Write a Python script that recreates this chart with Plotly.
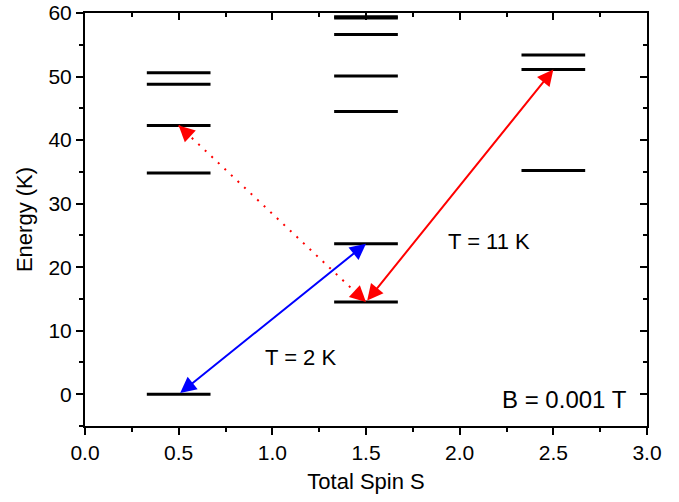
import plotly.graph_objects as go

# ---- data ----
spin_values = [0.5, 1.5, 2.5]
levels_s05 = [0.0, 34.8, 42.3, 48.8, 50.6]
levels_s15 = [14.5, 23.7, 44.5, 50.1, 56.6, 59.2, 59.4]
levels_s25 = [35.2, 51.1, 53.4]
all_levels = [levels_s05, levels_s15, levels_s25]

# transitions: (S_from, E_from, S_to, E_to)
blue_arrow = (0.5, 0.0, 1.5, 23.7)
red_arrow = (1.5, 14.5, 2.5, 51.1)
red_dotted = (0.5, 42.3, 1.5, 14.5)

labels = [("T = 2 K", 1.15, 5.8, 22), ("T = 11 K", 2.155, 24.0, 22), ("B = 0.001 T", 2.56, -0.8, 24)]

x_ticks = [0.0, 0.5, 1.0, 1.5, 2.0, 2.5, 3.0]
y_ticks = [0, 10, 20, 30, 40, 50, 60]

HALF = 0.17
FONT = "Arial, Liberation Sans, sans-serif"

fig = go.Figure()

# energy levels
xs, ys = [], []
for s, lev in zip(spin_values, all_levels):
    for e in lev:
        xs += [s - HALF, s + HALF, None]
        ys += [e, e, None]
fig.add_trace(go.Scatter(x=xs, y=ys, mode="lines", line=dict(color="black", width=3),
                         showlegend=False, hoverinfo="skip"))

# dotted red line
fig.add_trace(go.Scatter(x=[red_dotted[0], red_dotted[2]], y=[red_dotted[1], red_dotted[3]],
                         mode="lines", line=dict(color="red", width=2, dash="2px,7px"),
                         showlegend=False, hoverinfo="skip"))

# invisible trace for mirror axes
fig.add_trace(go.Scatter(x=[None], y=[None], xaxis="x2", yaxis="y2", showlegend=False, hoverinfo="skip"))

AS = 1.6

def solid_arrow(a, color):
    fig.add_annotation(x=a[2], y=a[3], ax=a[0], ay=a[1], xref="x", yref="y", axref="x", ayref="y",
                       text="", showarrow=True, arrowside="end+start", arrowhead=2, startarrowhead=2,
                       arrowwidth=2, arrowsize=AS, startarrowsize=AS, arrowcolor=color,
                       standoff=0, startstandoff=0)

solid_arrow(blue_arrow, "blue")
solid_arrow(red_arrow, "red")

# heads for dotted arrow
f = 0.065
x0, y0, x1, y1 = red_dotted
for (hx, hy, tx, ty) in [(x0, y0, x0 + f * (x1 - x0), y0 + f * (y1 - y0)),
                         (x1, y1, x1 + f * (x0 - x1), y1 + f * (y0 - y1))]:
    fig.add_annotation(x=hx, y=hy, ax=tx, ay=ty, xref="x", yref="y", axref="x", ayref="y",
                       text="", showarrow=True, arrowhead=2, arrowwidth=2, arrowsize=AS,
                       arrowcolor="red", standoff=0)

for t, x, y, sz in labels:
    fig.add_annotation(x=x, y=y, xref="x", yref="y", text=t, showarrow=False,
                       xanchor="center", yanchor="middle", font=dict(size=sz, color="black", family=FONT))

axis_common = dict(showline=True, linewidth=2, linecolor="black", showgrid=False, zeroline=False,
                   tickwidth=2, tickcolor="black", automargin=False)

fig.update_layout(
    width=679, height=502,
    margin=dict(l=85, r=32, t=13, b=76),
    plot_bgcolor="white", paper_bgcolor="white",
    font=dict(family=FONT, color="black"),
    xaxis=dict(range=[0, 3], tickmode="array", tickvals=x_ticks, ticktext=[f"{v:.1f}" for v in x_ticks],
               ticks="outside", ticklen=7, tickfont=dict(size=21),
               minor=dict(dtick=0.25, tick0=0, ticks="outside", ticklen=4, tickwidth=2, tickcolor="black", showgrid=False),
               title=dict(text="Total Spin S", font=dict(size=22), standoff=10), **axis_common),
    yaxis=dict(range=[-5, 60], tickmode="array", tickvals=y_ticks, ticktext=[str(v) for v in y_ticks],
               ticks="outside", ticklen=7, tickfont=dict(size=21),
               minor=dict(dtick=5, tick0=-5, ticks="outside", ticklen=4, tickwidth=2, tickcolor="black", showgrid=False),
               title=dict(text="Energy (K)", font=dict(size=22), standoff=10), **axis_common),
    xaxis2=dict(overlaying="x", side="top", anchor="y", range=[0, 3], tickmode="array", tickvals=x_ticks,
                ticks="inside", ticklen=7, showticklabels=False,
                minor=dict(dtick=0.25, tick0=0, ticks="inside", ticklen=4, tickwidth=2, tickcolor="black", showgrid=False),
                **axis_common),
    yaxis2=dict(overlaying="y", side="right", anchor="x", range=[-5, 60], tickmode="array", tickvals=y_ticks,
                ticks="inside", ticklen=7, showticklabels=False,
                minor=dict(dtick=5, tick0=-5, ticks="inside", ticklen=4, tickwidth=2, tickcolor="black", showgrid=False),
                **axis_common),
)

fig.write_html("out.html")
